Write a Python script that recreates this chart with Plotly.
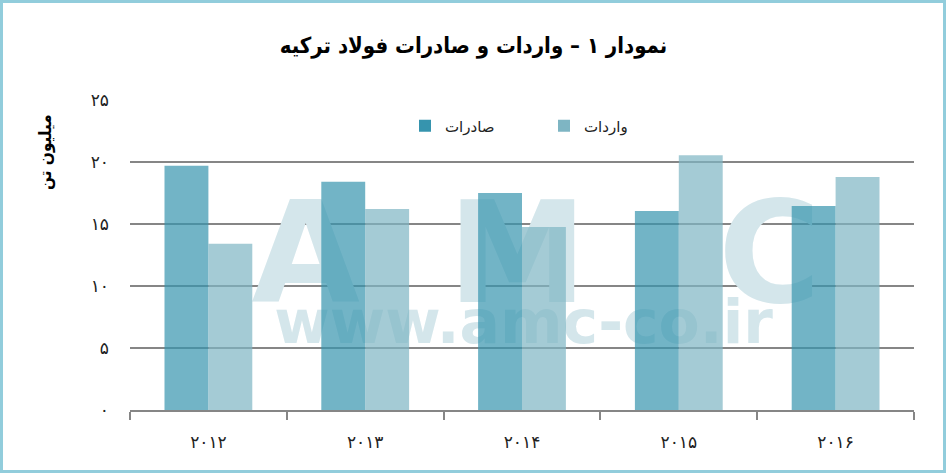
import plotly.graph_objects as go

years = ["۲۰۱۲", "۲۰۱۳", "۲۰۱۴", "۲۰۱۵", "۲۰۱۶"]
exports = [19.7, 18.4, 17.5, 16.05, 16.45]   # صادرات
imports = [13.4, 16.2, 14.75, 20.55, 18.8]   # واردات
y_ticks = [0, 5, 10, 15, 20, 25]
y_tick_labels = ["۰", "۵", "۱۰", "۱۵", "۲۰", "۲۵"]
title_text = "نمودار ۱ – واردات و صادرات فولاد ترکیه"
y_title = "میلیون تن"
series_names = ["صادرات", "واردات"]
wm_letters = ["A", "M", "C"]
wm_letter_x = [0.62, 1.97, 3.58]
wm_url = "www.amc-co.ir"

W, H = 947, 474
ML, MR, MT, MB = 130, 33, 100, 64
PW, PH = W - ML - MR, H - MT - MB

xpos = list(range(len(years)))
FONT = "DejaVu Sans"
FONT_C = "DejaVu Sans Condensed"
GRID = "#868686"

fig = go.Figure()

# watermark (base subplot, drawn beneath the bars)
fig.add_trace(go.Scatter(
    x=wm_letter_x, y=[11.5] * len(wm_letters), mode="text", text=wm_letters,
    textfont=dict(family=FONT, size=140, color="#D4E6EB", weight="bold"),
    hoverinfo="skip", showlegend=False, xaxis="x", yaxis="y"))
fig.add_trace(go.Scatter(
    x=[2.01], y=[6.6], mode="text", text=[wm_url],
    textfont=dict(family=FONT, size=60, color="#D4E6EB", weight="bold"),
    hoverinfo="skip", showlegend=False, xaxis="x", yaxis="y"))

fig.add_trace(go.Bar(
    x=xpos, y=exports, name=series_names[0],
    marker=dict(color="rgb(54,148,174)", opacity=0.7, line=dict(width=0)),
    xaxis="x", yaxis="y2"))
fig.add_trace(go.Bar(
    x=xpos, y=imports, name=series_names[1],
    marker=dict(color="rgb(126,181,195)", opacity=0.7, line=dict(width=0)),
    xaxis="x", yaxis="y2"))

bounds = [i - 0.5 for i in range(len(years) + 1)]

fig.update_layout(
    width=W, height=H,
    margin=dict(l=ML, r=MR, t=MT, b=MB, pad=0),
    paper_bgcolor="white", plot_bgcolor="white",
    barmode="group", bargap=0.44, bargroupgap=0,
    font=dict(family=FONT, color="#222"),
    title=dict(text=title_text, x=0.5, xanchor="center", y=1 - 45 / H, yanchor="middle",
               font=dict(family=FONT_C, size=22, color="black", weight="bold")),
    xaxis=dict(
        range=[-0.5, len(years) - 0.5], tickvals=xpos, ticktext=years,
        ticks="", showgrid=False, zeroline=False,
        showline=True, linecolor=GRID, linewidth=2,
        tickfont=dict(family=FONT, size=17, color="#222"),
        ticklabelstandoff=16,
        minor=dict(tickvals=bounds, ticks="outside", ticklen=8, tickwidth=2,
                   tickcolor=GRID, showgrid=False),
        fixedrange=True),
    yaxis=dict(
        range=[0, 25], tickvals=y_ticks, ticktext=y_tick_labels,
        showgrid=True, gridcolor=GRID, gridwidth=2, zeroline=False,
        showline=False, ticks="",
        tickfont=dict(family=FONT, size=17, color="#222"),
        ticklabelstandoff=20, fixedrange=True),
    yaxis2=dict(range=[0, 25], overlaying="y", visible=False, fixedrange=True),
    legend=dict(orientation="h", x=(405 - ML) / PW, xanchor="left",
                y=(410 - 126) / PH, yanchor="middle",
                font=dict(family=FONT, size=15, color="#222"),
                bgcolor="rgba(0,0,0,0)", itemwidth=30, tracegroupgap=0,
                entrywidth=94, entrywidthmode="pixels"),
    showlegend=True,
)

fig.add_annotation(
    text=y_title, xref="paper", yref="paper",
    x=(45 - ML) / PW, y=(410 - 152) / PH, xanchor="center", yanchor="middle",
    textangle=-90, showarrow=False,
    font=dict(family=FONT_C, size=17, color="black", weight="bold"))

fig.add_shape(
    type="rect", xref="paper", yref="paper",
    x0=(1.5 - ML) / PW, x1=(W - 2.5 - ML) / PW,
    y0=(410 - (H - 2.5)) / PH, y1=(410 - 1.5) / PH,
    line=dict(color="#92CDDC", width=3), fillcolor="rgba(0,0,0,0)", layer="above")

fig.write_html(
    "out.html",
    config={"displayModeBar": False},
    post_script="document.body.style.margin='0';document.body.style.overflow='hidden';")
